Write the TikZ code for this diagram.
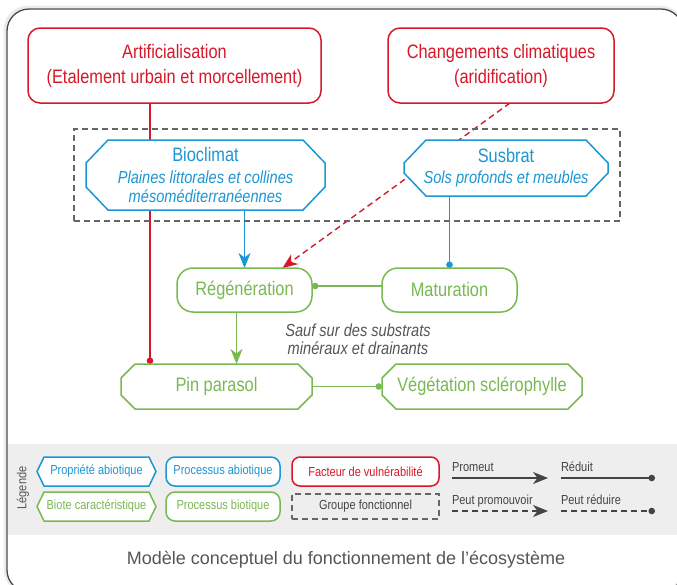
\documentclass[tikz,border=0pt]{standalone}
\usepackage{fontspec}
\setmainfont[FakeStretch=0.84]{Liberation Sans}
\newfontfamily\capfont{Liberation Sans}
\usetikzlibrary{arrows.meta}
\definecolor{vred}{HTML}{D7182A}
\definecolor{vblue}{HTML}{1C96D4}
\definecolor{vgreen}{HTML}{7AB852}
\definecolor{tgray}{HTML}{555555}
\definecolor{dgray}{HTML}{666666}
\definecolor{ldark}{HTML}{444444}
\definecolor{band}{HTML}{EEEEEE}
\definecolor{fgray}{HTML}{4A4A4A}
\pgfdeclarelayer{bg}
\pgfdeclarelayer{shapes}
\pgfsetlayers{bg,shapes,main}
\newcommand\octa[4]{%
\begin{pgfonlayer}{shapes}
\draw[draw=#4, fill=white, line width=1.5pt]
 ([xshift=#2]#1.north west) -- ([xshift=-#2]#1.north east) -- ([yshift=-#3]#1.north east)
 -- ([yshift=#3]#1.south east) -- ([xshift=-#2]#1.south east) -- ([xshift=#2]#1.south west)
 -- ([yshift=#3]#1.south west) -- ([yshift=-#3]#1.north west) -- cycle;
\end{pgfonlayer}}
\begin{document}
\begin{tikzpicture}[x=1pt,y=-1pt,
  every node/.style={inner sep=0pt, outer sep=0pt},
  mainfont/.style={font=\fontsize{19.5}{25}\selectfont},
  legtext/.style={font=\fontsize{13.1}{15}\selectfont},
  rbox/.style={draw=#1, text=#1, fill=white, line width=1.5pt, rounded corners=12pt, align=center},
  procbox/.style={draw=#1, text=#1, fill=white, line width=1.5pt, rounded corners=16pt, align=center},
  octnode/.style={text=#1, align=center},
  conn/.style={line width=1.4pt},
  promo/.style={conn, -{Stealth[length=15pt,width=12pt,inset=4.5pt]}},
  reduce/.style={conn, -{Circle[length=6.5pt]}},
  grpbox/.style={draw=dgray, dash pattern=on 6pt off 4pt, line width=1.3pt},
]
\useasboundingbox (0,0) rectangle (677,584);

% main nodes
\node[rbox=vred, mainfont, minimum width=293pt, minimum height=75pt] (art) at (174.5,65.5)
  {Artificialisation\\(Etalement urbain et morcellement)};
\node[rbox=vred, mainfont, minimum width=226pt, minimum height=75pt] (clim) at (501,65.5)
  {Changements climatiques\\(aridification)};
\node[grpbox, minimum width=546pt, minimum height=92pt] (grp) at (347,175) {};
\node[octnode=vblue, font=\fontsize{17.4}{19}\selectfont, minimum width=239pt, minimum height=70pt] (bio) at (205.5,175)
  {{\fontsize{19.5}{22}\selectfont Bioclimat}\\[3pt]{\itshape Plaines littorales et collines}\\{\itshape mésoméditerranéennes}};
\node[octnode=vblue, font=\fontsize{17.4}{19}\selectfont, minimum width=204pt, minimum height=56pt] (sub) at (506,168)
  {{\fontsize{19.5}{22}\selectfont Susbrat}\\[2pt]{\itshape Sols profonds et meubles}};
\node[procbox=vgreen, mainfont, minimum width=135pt, minimum height=44pt] (reg) at (244.5,290) {Régénération};
\node[procbox=vgreen, mainfont, minimum width=135pt, minimum height=44pt] (mat) at (449.5,290) {Maturation};
\node[octnode=vgreen, mainfont, minimum width=191pt, minimum height=45pt] (pin) at (216.5,386.5) {Pin parasol};
\node[octnode=vgreen, mainfont, minimum width=200pt, minimum height=45pt] (veg) at (482,386.5) {Végétation sclérophylle};
\node[text=tgray, font=\fontsize{17.4}{18}\selectfont\itshape, align=center] (note) at (358,339)
  {Sauf sur des substrats\\minéraux et drainants};

\octa{bio}{22pt}{23pt}{vblue}
\octa{sub}{22pt}{23pt}{vblue}
\octa{pin}{14pt}{14pt}{vgreen}
\octa{veg}{14pt}{14pt}{vgreen}

% legend nodes
\node[octnode=vblue, legtext, minimum width=119pt, minimum height=29pt] (lprop) at (96.5,471.5) {Propriété abiotique};
\node[octnode=vgreen, legtext, minimum width=119pt, minimum height=29pt] (lbio) at (96.5,506.5) {Biote caractéristique};
\octa{lprop}{7pt}{14.5pt}{vblue}
\octa{lbio}{7pt}{14.5pt}{vgreen}
\node[procbox=vblue, legtext, rounded corners=9pt, minimum width=114pt, minimum height=29pt] (lpa) at (223,471.5) {Processus abiotique};
\node[procbox=vgreen, legtext, rounded corners=9pt, minimum width=114pt, minimum height=29pt] (lpb) at (223,506.5) {Processus biotique};
\node[rbox=vred, legtext, rounded corners=8pt, minimum width=147pt, minimum height=29pt] (lfv) at (365.5,471.5) {Facteur de vulnérabilité};
\node[grpbox, legtext, text=ldark, minimum width=147pt, minimum height=25pt] (lgf) at (365.5,506.5) {Groupe fonctionnel};
\node[legtext, text=tgray, rotate=90] (leg) at (23,488) {Légende};

\node[legtext, text=ldark, anchor=base west] (tprom) at (452,471) {Promeut};
\node[legtext, text=ldark, anchor=base west] (tred) at (561,471) {Réduit};
\node[legtext, text=ldark, anchor=base west] (tpprom) at (452,504) {Peut promouvoir};
\node[legtext, text=ldark, anchor=base west] (tpred) at (561,504) {Peut réduire};
\coordinate (pa) at (452,478); \coordinate (pb) at (548,478);
\coordinate (ra) at (561,478); \coordinate (rb) at (655,478);
\coordinate (qa) at (452,511); \coordinate (qb) at (548,511);
\coordinate (sa) at (561,511); \coordinate (sb) at (655,511);
\draw[promo, ldark, line width=1.2pt] (pa) -- (pb);
\draw[reduce, ldark, line width=1.2pt] (ra) -- (rb);
\draw[promo, ldark, line width=1.2pt, dash pattern=on 6pt off 4pt] (qa) -- (qb);
\draw[reduce, ldark, line width=1.2pt, dash pattern=on 6pt off 4pt] (sa) -- (sb);

\node[font=\capfont\fontsize{18}{22}\selectfont, text=tgray] (cap) at (346,560)
  {Modèle conceptuel du fonctionnement de l’écosystème};

\begin{pgfonlayer}{bg}
  \fill[band] (8,444) rectangle (683,535);
  \draw[line width=3pt, black!8, rounded corners=23pt] (5,7) rectangle (683,592);
  \draw[line width=1.3pt, fgray, rounded corners=22pt] (7,9) rectangle (683,592);
  \coordinate (artx) at (150,0);
  \draw[reduce, vred] (art.south -| artx) -- (pin.north -| artx);
  \draw[promo, vred, dash pattern=on 6pt off 4pt] ([xshift=9pt]clim.south) -- ([xshift=38pt]reg.north);
  \draw[promo, vblue] (bio.south -| reg.north) -- (reg.north);
  \draw[reduce, vblue] (sub.south -| mat.north) -- (mat.north);
  \draw[reduce, vgreen] ([yshift=4pt]mat.west) -- ([yshift=4pt]reg.east);
  \draw[promo, vgreen] ([xshift=-8pt]reg.south) -- ([xshift=-8pt]reg.south |- pin.north);
  \draw[reduce, vgreen] (pin.east) -- (veg.west);
\end{pgfonlayer}
\end{tikzpicture}
\end{document}
